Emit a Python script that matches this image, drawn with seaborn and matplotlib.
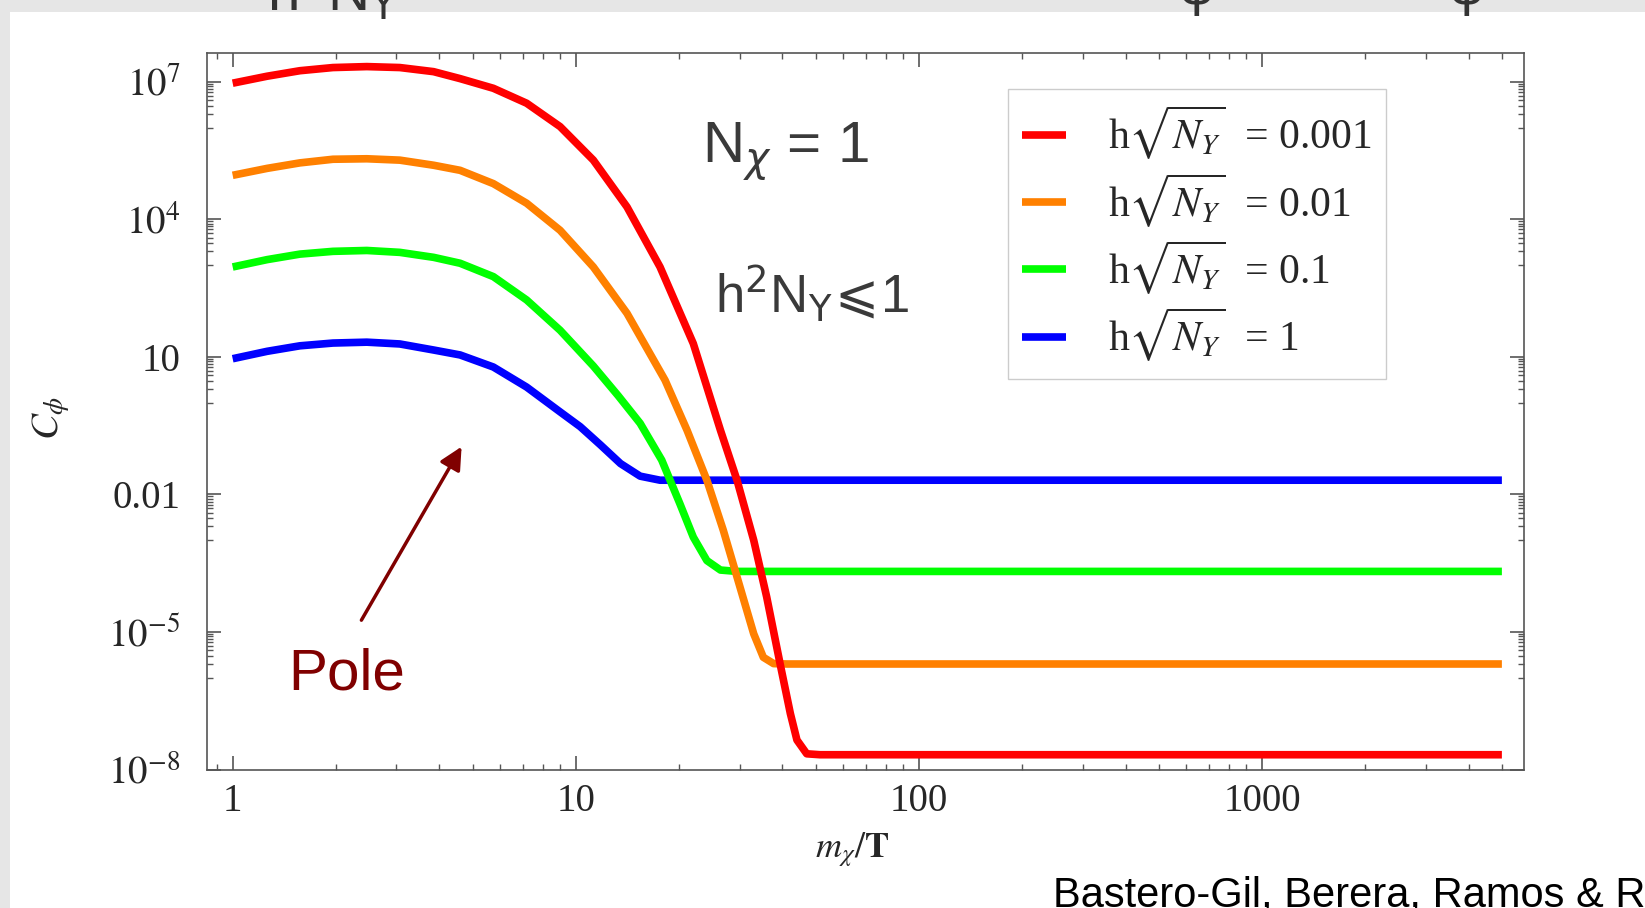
import matplotlib
matplotlib.use("Agg")
import pandas as pd
import matplotlib.pyplot as plt
import seaborn as sns
from matplotlib.patches import Rectangle
from matplotlib.ticker import FixedLocator, NullFormatter

sns.set_style("ticks")
plt.rcParams["font.family"] = ["Liberation Serif", "DejaVu Serif"]
plt.rcParams["mathtext.fontset"] = "stix"

# values (m_chi/T, C_phi)
labels = [r"h$\sqrt{N_Y}$  = 0.001", r"h$\sqrt{N_Y}$  = 0.01",
          r"h$\sqrt{N_Y}$  = 0.1", r"h$\sqrt{N_Y}$  = 1"]
colors = ["#ff0000", "#ff8000", "#00ff00", "#0000ff"]

x_red = [1.0, 1.26, 1.57, 1.96, 2.46, 3.07, 3.85, 4.60, 5.75, 7.19, 9.0, 11.25,
         14.1, 17.6, 22.0, 26.4, 29.5, 33.0, 36.0, 39.4, 42.2, 44.1, 47.1, 51.5, 5000]
y_red = [9.3e6, 1.32e7, 1.74e7, 2.04e7, 2.14e7, 2.04e7, 1.66e7, 1.17e7, 7.2e6,
         3.4e6, 1.05e6, 1.95e5, 1.86e4, 912, 19.5, 0.25, 0.0204, 1.0e-3, 5.8e-5,
         2.0e-6, 1.66e-7, 4.4e-8, 2.2e-8, 2.1e-8, 2.1e-8]

x_orange = [1.0, 1.26, 1.57, 1.96, 2.46, 3.07, 3.85, 4.60, 5.75, 7.19, 9.0, 11.25,
            14.1, 18.2, 21.1, 24.1, 26.9, 30.1, 33.0, 35.2, 37.7, 41.2, 5000]
y_orange = [9.1e4, 1.29e5, 1.7e5, 2.04e5, 2.09e5, 1.95e5, 1.51e5, 1.17e5, 6.0e4,
            2.24e4, 5.75e3, 912, 89, 3.1, 0.25, 0.0204, 1.66e-3, 9.5e-5, 9.1e-6,
            2.8e-6, 2.04e-6, 2.0e-6, 2.0e-6]

x_green = [1.0, 1.26, 1.57, 1.96, 2.46, 3.07, 3.85, 4.60, 5.75, 7.19, 9.0, 11.25,
           13.3, 15.4, 17.8, 20.1, 22.0, 24.1, 26.4, 29.5, 5000]
y_green = [912, 1320, 1740, 2000, 2090, 1900, 1480, 1100, 562, 174, 38, 6.3, 1.41,
           0.355, 0.056, 6.3e-3, 1.17e-3, 3.6e-4, 2.24e-4, 2.09e-4, 2.09e-4]

x_blue = [1.0, 1.26, 1.57, 1.96, 2.46, 3.07, 3.85, 4.60, 5.75, 7.19, 9.0, 10.3,
          11.8, 13.5, 15.4, 17.6, 5000]
y_blue = [9.1, 13.2, 17.4, 20, 20.9, 19.1, 14.1, 11.0, 6.0, 2.19, 0.63, 0.30, 0.12,
          0.047, 0.025, 0.0204, 0.0204]

y_major = [1e-8, 1e-5, 1e-2, 10, 1e4, 1e7]
y_major_labels = [r"$10^{-8}$", r"$10^{-5}$", "0.01", "10", r"$10^{4}$", r"$10^{7}$"]
x_major = [1, 10, 100, 1000]
x_major_labels = ["1", "10", "100", "1000"]

series = [(x_red, y_red), (x_orange, y_orange), (x_green, y_green), (x_blue, y_blue)]
df = pd.concat([pd.DataFrame({"m": xs, "C": ys, "h": lab})
                for lab, (xs, ys) in zip(labels, series)], ignore_index=True)

W, H = 1645, 908
fig = plt.figure(figsize=(W / 100, H / 100), dpi=100, facecolor="#e6e6e6")
fig.patches.append(Rectangle((9.5 / W, 0), 1, 1 - 11.5 / H, transform=fig.transFigure,
                             facecolor="white", edgecolor="none", zorder=-5))

ax = fig.add_axes([206.7 / W, 1 - 769.5 / H, (1524 - 206.7) / W, (769.5 - 52.7) / H])
sns.lineplot(data=df, x="m", y="C", hue="h", hue_order=labels, palette=colors,
             lw=5.5, estimator=None, sort=False, ax=ax)
for i, line in enumerate(ax.lines):
    line.set_zorder(10 - i)
    line.set_solid_capstyle("butt")
    line.set_solid_joinstyle("round")

ax.set_xscale("log")
ax.set_yscale("log")
ax.set_xlim(0.84, 5800)
ax.set_ylim(1e-8, 4.3e7)

ax.xaxis.set_major_locator(FixedLocator(x_major))
ax.set_xticklabels(x_major_labels)
ax.xaxis.set_minor_locator(FixedLocator([k * 10 ** d for d in range(-1, 4) for k in range(2, 10)]))
ax.yaxis.set_major_locator(FixedLocator(y_major))
ax.set_yticklabels(y_major_labels)
ax.yaxis.set_minor_locator(FixedLocator([k * m / 10 for m in y_major for k in range(1, 10)]))
ax.xaxis.set_minor_formatter(NullFormatter())
ax.yaxis.set_minor_formatter(NullFormatter())

ax.tick_params(which="both", direction="in", top=True, right=True, color="#555555")
ax.tick_params(which="major", length=10, width=1.2, labelsize=28, pad=10)
ax.tick_params(axis="y", which="major", pad=19)
ax.tick_params(which="minor", length=4.5, width=1)
for sp in ax.spines.values():
    sp.set_color("#555555")
    sp.set_linewidth(1.2)

ax.set_xlabel(r"$m_{\chi}/\mathbf{T}$", fontsize=26)
ax.set_ylabel(r"$C_{\phi}$", fontsize=28)
ax.xaxis.set_label_coords(0.49, -0.084)
ax.yaxis.set_label_coords(-0.102, 0.49)

handles, labs = ax.get_legend_handles_labels()
ax.legend(handles, labs, loc="upper left", bbox_to_anchor=(0.608, 0.949),
          borderaxespad=0, frameon=True, fancybox=False, framealpha=1,
          edgecolor="#cccccc", fontsize=30, handlelength=1.05, handletextpad=1.0,
          labelspacing=0.22, borderpad=0.35)

sans = ["Liberation Sans", "DejaVu Sans"]
ax.text(0.376, 0.846, r"N$_{\chi}$ = 1", transform=ax.transAxes, fontsize=42,
        family=sans, math_fontfamily="dejavusans", color="#3a3a3a")
ax.text(0.386, 0.638, r"h$^{2}$N$_{\mathrm{Y}}\!\leqslant\!$1", transform=ax.transAxes,
        fontsize=38, family=sans, math_fontfamily="dejavusans", color="#3a3a3a")

ax.annotate("", xy=(4.69, 0.124), xytext=(2.35, 1.6e-5),
            arrowprops=dict(arrowstyle="-|>", color="#800000", lw=2.5, mutation_scale=34))
ax.text(1.45, 5.6e-7, "Pole", fontsize=42, family=sans, color="#800000")

# slide fragments around the chart
fig.text(267 / W, 1 - 10 / H, r"h$^{2}$N$_{\mathrm{Y}}$", fontsize=42, family=sans,
         math_fontfamily="dejavusans", color="#333333", va="baseline")
fig.text(1197 / W, 1 - 4 / H, "\u03c6", fontsize=40, family=sans, color="#333333",
         ha="center", va="baseline")
fig.text(1467 / W, 1 - 4 / H, "\u03c6", fontsize=40, family=sans, color="#333333",
         ha="center", va="baseline")
fig.text(1053 / W, 2 / H, "Bastero-Gil, Berera, Ramos & Rosa", fontsize=30,
         family=sans, color="black", va="baseline")

fig.savefig("out.png", dpi=100, facecolor=fig.get_facecolor())
